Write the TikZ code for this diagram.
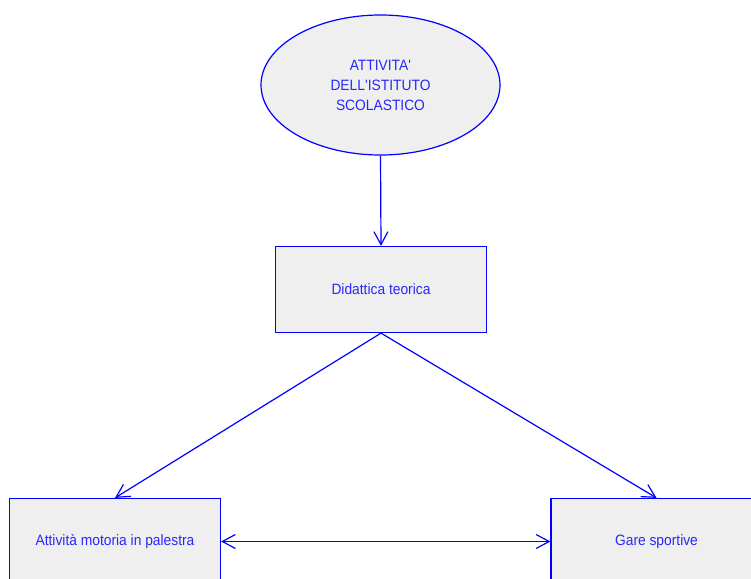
\documentclass[tikz,border=0pt]{standalone}
\usepackage{fontspec}
\setmainfont[FakeStretch=0.92]{Liberation Sans}
\usetikzlibrary{shapes.geometric,arrows.meta}

\definecolor{linieblau}{RGB}{0,0,255}
\definecolor{textblau}{RGB}{40,40,250}
\definecolor{fuellgrau}{RGB}{239,239,239}

\begin{document}
\begin{tikzpicture}[x=1pt,y=1pt,
    kasten/.style={draw=linieblau, fill=fuellgrau, line width=1.2pt,
        minimum width=211pt, minimum height=86pt, text=textblau,
        font=\fontsize{15}{20}\selectfont},
    wolke/.style={ellipse, draw=linieblau, fill=fuellgrau, line width=1.2pt,
        minimum width=239pt, minimum height=140pt, text=textblau, align=center,
        font=\fontsize{15}{20}\selectfont},
    pfeil/.style={draw=linieblau, line width=1.2pt,
        -{Straight Barb[length=13pt,width=14pt]}},
    doppelpfeil/.style={draw=linieblau, line width=1.2pt,
        {Straight Barb[length=13pt,width=14pt]}-{Straight Barb[length=13pt,width=14pt]}}]

\useasboundingbox (0,0) rectangle (751,-578);
\clip (0,0) rectangle (751,-578);

% Oberste Ebene
\node[wolke] (istituto) at (380.5,-85)
    {ATTIVITA\textquotesingle\\DELL\textquotesingle ISTITUTO\\SCOLASTICO};

% Mittlere Ebene
\node[kasten] (didattica) at (381,-289.5) {Didattica teorica};

% Untere Ebene
\node[kasten] (palestra) at (115,-541.5) {Attività motoria in palestra};
\node[kasten] (gare) at (656.5,-541.5) {Gare sportive};

% Verbindungen
\draw[pfeil] (istituto.south) -- (didattica.north);
\draw[pfeil] (didattica.south) -- (palestra.north);
\draw[pfeil] (didattica.south) -- (gare.north);
\draw[doppelpfeil] (palestra.east) -- (gare.west);

\end{tikzpicture}
\end{document}
